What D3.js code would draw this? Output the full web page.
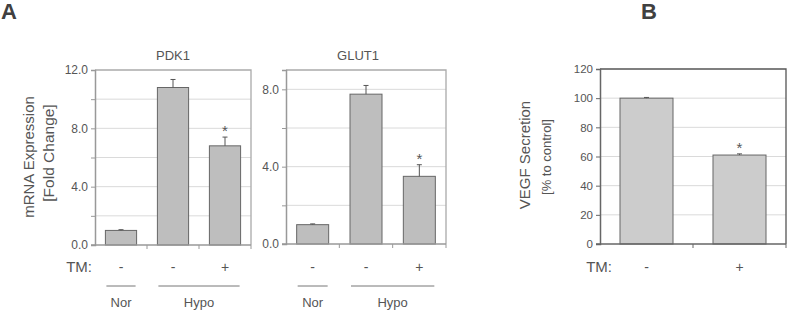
<!DOCTYPE html>
<html>
<head>
<meta charset="utf-8">
<script src="https://cdn.jsdelivr.net/npm/d3@7"></script>
<style>
  body { margin: 0; background: #fff; }
  svg { display: block; font-family: "Liberation Sans", Arial, sans-serif; }
</style>
</head>
<body>
<div id="chart"></div>
<script>
// categories
const groupsA = ["Nor", "Hypo"];
const tmA = ["-", "-", "+"];
const tmB = ["-", "+"];
const catGroup = [0, 1, 1]; // which group each bar in A belongs to

// series values
const pdk1Values = [1.0, 10.8, 6.8];
const pdk1Errors = [0.05, 0.55, 0.6];
const glut1Values = [1.0, 7.75, 3.5];
const glut1Errors = [0.04, 0.45, 0.6];
const vegfValues = [100, 61];
const vegfErrors = [0.5, 0.8];
const pdk1Sig = [false, false, true];
const glut1Sig = [false, false, true];
const vegfSig = [false, true];

// tick labels
const pdk1Ticks = [0, 2, 4, 6, 8, 10, 12];
const pdk1Labeled = [0, 4, 8, 12];
const glut1Ticks = [0, 2, 4, 6, 8];
const glut1Labeled = [0, 4, 8];
const vegfTicks = [0, 20, 40, 60, 80, 100, 120];

const width = 787, height = 312;
const svg = d3.select("#chart").append("svg")
    .attr("width", width)
    .attr("height", height);

const textColor = "#555";

function panel(opts) {
    const { x0, x1, y0, y1, max, values, errors, sig, ticks, labeled, fmt,
            fill, frame, axisColor, barFrac, tickFont } = opts;
    const cats = values.map((d, i) => i);
    const x = d3.scaleBand().domain(cats).range([x0, x1]).padding(0);
    const y = d3.scaleLinear().domain([0, max]).range([y1, y0]);
    const g = svg.append("g");

    // grid
    g.selectAll("line.grid")
        .data(ticks.filter(t => t > 0 && t < max))
        .join("line")
        .attr("x1", x0).attr("x2", x1)
        .attr("y1", d => y(d)).attr("y2", d => y(d))
        .attr("stroke", "#dadada").attr("stroke-width", 1);

    // frame top/right
    g.append("path")
        .attr("d", `M${x0},${y0}H${x1}V${y1}`)
        .attr("fill", "none").attr("stroke", frame).attr("stroke-width", 1.3);

    const bw = x.bandwidth() * barFrac;
    const bx = i => x(i) + (x.bandwidth() - bw) / 2;

    // bars
    g.selectAll("rect.bar")
        .data(values)
        .join("rect")
        .attr("x", (d, i) => bx(i))
        .attr("width", bw)
        .attr("y", d => y(d))
        .attr("height", d => y(0) - y(d))
        .attr("fill", fill)
        .attr("stroke", "#666").attr("stroke-width", 1);

    // error bars
    const cx = i => x(i) + x.bandwidth() / 2;
    const eg = g.selectAll("g.err").data(values).join("g");
    eg.append("line")
        .attr("x1", (d, i) => cx(i)).attr("x2", (d, i) => cx(i))
        .attr("y1", d => y(d))
        .attr("y2", (d, i) => y(d + errors[i]))
        .attr("stroke", "#555");
    eg.append("line")
        .attr("x1", (d, i) => cx(i) - 2.5).attr("x2", (d, i) => cx(i) + 2.5)
        .attr("y1", (d, i) => y(d + errors[i]))
        .attr("y2", (d, i) => y(d + errors[i]))
        .attr("stroke", "#555");

    // significance stars
    g.selectAll("text.star")
        .data(values.map((d, i) => ({ d, i })).filter(o => sig[o.i]))
        .join("text")
        .attr("x", o => cx(o.i))
        .attr("y", o => y(o.d + errors[o.i]) - 1)
        .attr("text-anchor", "middle")
        .attr("font-size", 15)
        .attr("fill", textColor)
        .text("*");

    // y axis
    const ya = g.append("g")
        .attr("transform", `translate(${x0},0)`)
        .call(d3.axisLeft(y).tickValues(ticks).tickSize(4).tickPadding(3)
            .tickFormat(d => labeled.includes(d) ? fmt(d) : ""));
    ya.select(".domain").attr("stroke", axisColor).attr("stroke-width", 1.5);
    ya.selectAll(".tick line").attr("stroke", axisColor);
    ya.selectAll("text").attr("fill", textColor).attr("font-size", tickFont)
        .attr("font-family", "Liberation Sans, Arial, sans-serif");

    // x axis line with ticks between categories
    g.append("line")
        .attr("x1", x0 - 4).attr("x2", x1)
        .attr("y1", y1).attr("y2", y1)
        .attr("stroke", axisColor).attr("stroke-width", 1.3);
    g.selectAll("line.xt")
        .data(cats.slice(1).concat([cats.length]))
        .join("line")
        .attr("x1", d => x0 + d * x.step()).attr("x2", d => x0 + d * x.step())
        .attr("y1", y1).attr("y2", y1 + 4)
        .attr("stroke", axisColor);

    return { x, y, bw, bx };
}

function tmRow(p, labels, yRow, size) {
    svg.append("g").selectAll("text")
        .data(labels)
        .join("text")
        .attr("x", (d, i) => p.x(i) + p.x.bandwidth() / 2)
        .attr("y", yRow)
        .attr("text-anchor", "middle")
        .attr("font-size", size)
        .attr("fill", textColor)
        .text(d => d);
}

function groupRow(p) {
    const gr = groupsA.map((name, gi) => {
        const idx = catGroup.map((g, i) => g === gi ? i : -1).filter(i => i >= 0);
        return { name, a: p.bx(idx[0]) + 1, b: p.bx(idx[idx.length - 1]) + p.bw - 1 };
    });
    const g = svg.append("g");
    g.selectAll("line").data(gr).join("line")
        .attr("x1", d => d.a).attr("x2", d => d.b)
        .attr("y1", 286).attr("y2", 286)
        .attr("stroke", "#777");
    g.selectAll("text").data(gr).join("text")
        .attr("x", d => (d.a + d.b) / 2)
        .attr("y", 307)
        .attr("text-anchor", "middle")
        .attr("font-size", 13)
        .attr("fill", textColor)
        .text(d => d.name);
}

const f1 = d3.format(".1f");

// Panel A: PDK1
const pA1 = panel({ x0: 95, x1: 251, y0: 70, y1: 245, max: 12,
    values: pdk1Values, errors: pdk1Errors, sig: pdk1Sig,
    ticks: pdk1Ticks, labeled: pdk1Labeled, fmt: f1,
    fill: "#bebebe", frame: "#aaa", axisColor: "#999", barFrac: 0.6, tickFont: 12 });
// Panel A: GLUT1
const pA2 = panel({ x0: 286, x1: 446, y0: 70, y1: 244, max: 9,
    values: glut1Values, errors: glut1Errors, sig: glut1Sig,
    ticks: glut1Ticks, labeled: glut1Labeled, fmt: f1,
    fill: "#bebebe", frame: "#aaa", axisColor: "#999", barFrac: 0.6, tickFont: 12 });
// Panel B: VEGF
const pB = panel({ x0: 600, x1: 786, y0: 69, y1: 244, max: 120,
    values: vegfValues, errors: vegfErrors, sig: vegfSig,
    ticks: vegfTicks, labeled: vegfTicks, fmt: d3.format("d"),
    fill: "#cccccc", frame: "#555", axisColor: "#666", barFrac: 0.57, tickFont: 11.5 });

tmRow(pA1, tmA, 272, 14);
tmRow(pA2, tmA, 272, 14);
tmRow(pB, tmB, 272, 14);
groupRow(pA1);
groupRow(pA2);

// titles and labels
const lab = svg.append("g").attr("fill", textColor);
lab.append("text").attr("x", 1).attr("y", 19).attr("font-size", 22)
    .attr("font-weight", "bold").attr("fill", "#404040").text("A");
lab.append("text").attr("x", 641).attr("y", 19).attr("font-size", 22)
    .attr("font-weight", "bold").attr("fill", "#404040").text("B");
lab.append("text").attr("x", 173).attr("y", 60).attr("text-anchor", "middle")
    .attr("font-size", 13).text("PDK1");
lab.append("text").attr("x", 358).attr("y", 60).attr("text-anchor", "middle")
    .attr("font-size", 13).text("GLUT1");
lab.append("text").attr("x", 92).attr("y", 272).attr("text-anchor", "end")
    .attr("font-size", 15).text("TM:");
lab.append("text").attr("x", 612).attr("y", 272).attr("text-anchor", "end")
    .attr("font-size", 15).text("TM:");

lab.append("text").attr("transform", "translate(34,157) rotate(-90)")
    .attr("text-anchor", "middle").attr("font-size", 15).text("mRNA Expression");
lab.append("text").attr("transform", "translate(54,153) rotate(-90)")
    .attr("text-anchor", "middle").attr("font-size", 15.5).text("[Fold Change]");
lab.append("text").attr("transform", "translate(530,155) rotate(-90)")
    .attr("text-anchor", "middle").attr("font-size", 15).text("VEGF Secretion");
lab.append("text").attr("transform", "translate(551,157) rotate(-90)")
    .attr("text-anchor", "middle").attr("font-size", 13).text("[% to control]");
</script>
</body>
</html>
